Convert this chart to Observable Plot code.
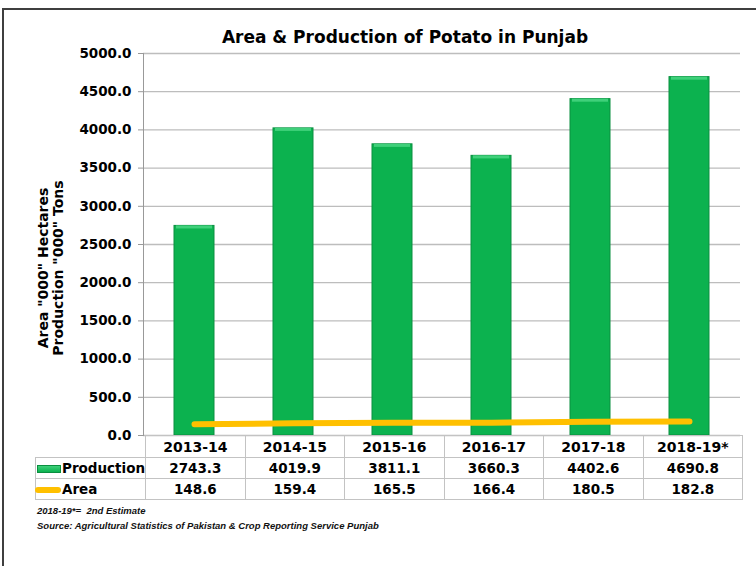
<!DOCTYPE html>
<html>
<head>
<meta charset="utf-8">
<script src="https://cdn.jsdelivr.net/npm/d3@7"></script>
<script src="https://cdn.jsdelivr.net/npm/@observablehq/plot@0.6"></script>
<style>
  html, body { margin: 0; padding: 0; background: #fff; }
  #wrap { position: relative; width: 756px; height: 566px; overflow: hidden; background: #fff;
          font-family: "DejaVu Sans", Verdana, sans-serif; font-weight: bold; color: #000; }
  #frameTop { position: absolute; left: 2px; top: 8px; width: 760px; height: 2px; background: #3f3f3f; }
  #frameLeft { position: absolute; left: 2px; top: 8px; width: 2px; height: 570px; background: #3f3f3f; }
  #title { position: absolute; top: 27px; left: 0; width: 756px; padding-left: 54px; box-sizing: border-box;
           text-align: center; font-size: 17px; line-height: 20px; }
  #ylabel { position: absolute; left: 51px; top: 268px; width: 260px; transform: translate(-50%, -50%) rotate(-90deg);
            text-align: center; font-size: 14px; line-height: 15px; }
  #chart { position: absolute; left: 0; top: 0; }
  #tbl { position: absolute; left: 35px; top: 435px; border-collapse: collapse; table-layout: fixed; }
  #tbl td { border: 1px solid #c3c3c3; text-align: center; font-size: 13.5px; padding: 0; white-space: nowrap; }
  #tbl tr.h td { height: 21px; font-size: 14px; }
  #tbl tr.r td { height: 20px; }
  #tbl td.leg { text-align: left; position: relative; }
  #tbl td.blank { border-top: none; border-left: none; }
  .sw { display: inline-block; vertical-align: middle; margin-right: 1px; }
  #notes { position: absolute; left: 37px; top: 503px; font-family: "Liberation Sans Narrow", "Liberation Sans", sans-serif;
           font-style: italic; font-size: 9.5px; line-height: 15px; font-weight: bold; color: #111; }
</style>
</head>
<body>
<div id="wrap">
  <div id="frameTop"></div>
  <div id="frameLeft"></div>
  <div id="chart"></div>
  <div id="title">Area &amp; Production of Potato in Punjab</div>
  <div id="ylabel">Area "000" Hectares<br>Production "000" Tons</div>
  <table id="tbl"></table>
  <div id="notes">2018-19*=&nbsp; 2nd Estimate<br>Source: Agricultural Statistics of Pakistan &amp; Crop Reporting Service Punjab</div>
</div>
<script>
const years = ["2013-14", "2014-15", "2015-16", "2016-17", "2017-18", "2018-19*"];
const production = [2743.3, 4019.9, 3811.1, 3660.3, 4402.6, 4690.8];
const area = [148.6, 159.4, 165.5, 166.4, 180.5, 182.8];
const yTicks = [0, 500, 1000, 1500, 2000, 2500, 3000, 3500, 4000, 4500, 5000];

const rows = years.map((y, i) => ({year: y, production: production[i], area: area[i]}));

const chart = Plot.plot({
  width: 756,
  height: 447,
  marginTop: 53,
  marginBottom: 12,
  marginLeft: 143,
  marginRight: 16,
  style: {fontFamily: '"DejaVu Sans", Verdana, sans-serif', fontWeight: "bold", fontSize: "13px", color: "#000", background: "transparent"},
  x: {domain: years, paddingInner: 0.6, paddingOuter: 0.3, axis: null},
  y: {domain: [0, 5000], axis: null},
  marks: [
    Plot.ruleY(yTicks, {stroke: "#bdbdbd", strokeWidth: 1.3}),
    Plot.axisY({ticks: yTicks, tickFormat: d3.format(".1f"), tickSize: 5, tickPadding: 7, stroke: "#999", fill: "#000", fontWeight: "bold", fontSize: 13.5}),
    Plot.frame({anchor: "left", stroke: "#999"}),
    Plot.barY(rows, {x: "year", y: "production", fill: "#0cb24f", stroke: "#0a8f40", strokeWidth: 1}),
    Plot.barY(rows, {x: "year", y1: (d) => d.production - 40, y2: "production", fill: "#3fd07a", insetLeft: 2, insetRight: 2}),
    Plot.lineY(rows, {x: "year", y: "area", stroke: "#FFC000", strokeWidth: 6, strokeLinecap: "round"})
  ]
});
document.getElementById("chart").appendChild(chart);

// data table below the plot, aligned with the x scale columns
const tbl = document.getElementById("tbl");
const colW = 597 / 6;
const cg = document.createElement("colgroup");
cg.innerHTML = `<col style="width:108px">` + years.map(() => `<col style="width:${colW}px">`).join("");
tbl.appendChild(cg);
const fmt = d3.format(".1f");
const hr = document.createElement("tr"); hr.className = "h";
hr.innerHTML = `<td class="blank"></td>` + years.map(y => `<td>${y}</td>`).join("");
tbl.appendChild(hr);
const pr = document.createElement("tr"); pr.className = "r";
pr.innerHTML = `<td class="leg"><span class="sw" style="width:24px;height:8px;background:linear-gradient(#3fd07a,#0cb24f);border:1px solid #0a8f40;box-sizing:border-box;margin-left:1px"></span>Production</td>` +
  production.map(v => `<td>${fmt(v)}</td>`).join("");
tbl.appendChild(pr);
const ar = document.createElement("tr"); ar.className = "r";
ar.innerHTML = `<td class="leg"><span class="sw" style="width:26px;height:6px;background:#FFC000;border-radius:3px;margin-left:-1px"></span>Area</td>` +
  area.map(v => `<td>${fmt(v)}</td>`).join("");
tbl.appendChild(ar);
</script>
</body>
</html>
